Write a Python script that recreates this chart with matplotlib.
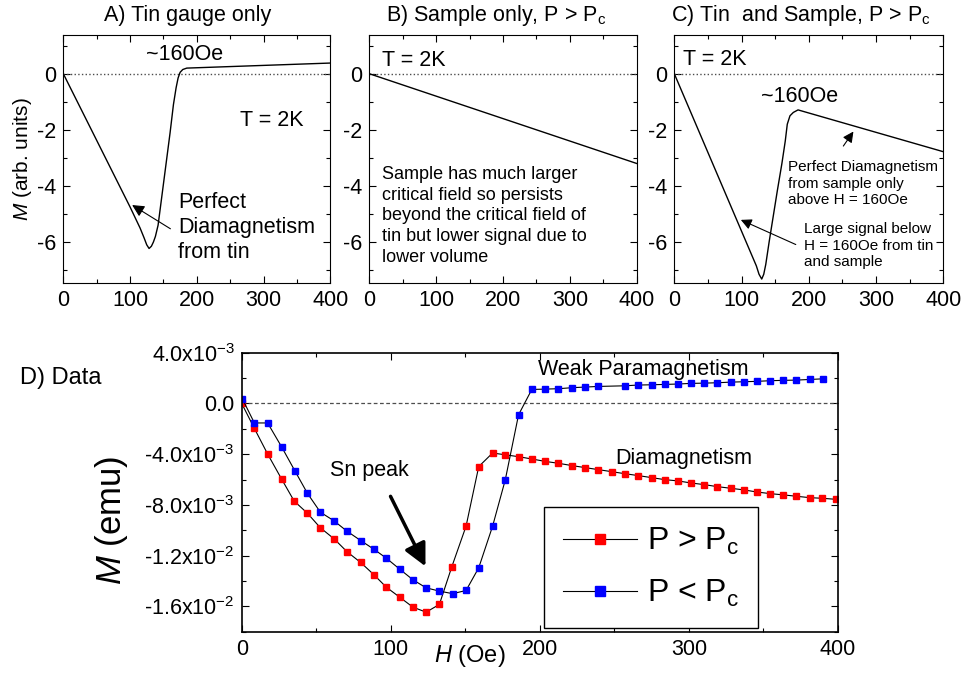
import matplotlib
matplotlib.use("Agg")
import matplotlib.pyplot as plt
from matplotlib.lines import Line2D
from matplotlib.ticker import MultipleLocator

plt.rcParams['font.family'] = ['Liberation Sans', 'DejaVu Sans']
plt.rcParams['mathtext.fontset'] = 'custom'
plt.rcParams['mathtext.rm'] = 'Liberation Sans'
plt.rcParams['mathtext.it'] = 'Liberation Sans:italic'
plt.rcParams['axes.unicode_minus'] = False

# Sketch curves (arb. units) for the three cartoon panels
h_tin = [0, 100, 115, 121, 125, 128.5, 132, 135, 138, 142, 148, 154, 160, 165, 169, 172, 175, 179, 185, 400]
m_tin = [0, -4.75, -5.5, -5.85, -6.1, -6.23, -6.15, -6.0, -5.8, -5.4, -4.3, -3.2, -2.1, -1.1, -0.5, -0.15, 0.05, 0.15, 0.2, 0.38]

h_sample = [0, 400]
m_sample = [0, -3.2]

h_both = [0, 122, 126, 130, 133, 136, 141, 147, 153, 160, 165, 168, 172, 177, 184, 400]
m_both = [0, -6.85, -7.15, -7.32, -7.15, -6.8, -6.0, -5.1, -4.2, -3.2, -2.4, -1.8, -1.5, -1.38, -1.29, -2.78]

# Measured magnetisation, P > Pc (emu x 1e-3)
h_high = [0, 8.5, 17.4, 26.7, 35.2, 44.1, 52.8, 62, 70.7, 79.8, 88.7, 97, 106, 114.8, 123.7,
          132.6, 141, 150.5, 159, 168.3, 176.8, 185.7, 194.6, 203.5, 212.5, 221.4, 230.3, 239.2,
          248.1, 257, 266, 274.9, 283.8, 292.7, 301.2, 310.1, 319, 328, 336.9, 345.4, 354.3,
          363.2, 372.1, 381, 389.5, 398.4]
m_high = [0, -1.97, -3.99, -5.95, -7.7, -8.66, -9.81, -10.68, -11.7, -12.54, -13.51, -14.49,
          -15.28, -16.06, -16.46, -15.85, -12.86, -9.68, -4.98, -3.91, -4.05, -4.2, -4.38, -4.57,
          -4.72, -4.9, -5.06, -5.22, -5.38, -5.54, -5.69, -5.85, -6.01, -6.11, -6.27, -6.4, -6.56,
          -6.69, -6.82, -6.98, -7.11, -7.21, -7.32, -7.43, -7.48, -7.56]

# Measured magnetisation, P < Pc (emu x 1e-3)
h_low = [0.5, 8.5, 17.4, 26.7, 35.6, 44.1, 52.8, 61.7, 70.7, 79.8, 88.7, 97, 106, 114.8, 123.7,
         132.6, 141.5, 150.5, 159, 168.3, 176.8, 185.7, 194.6, 203.5, 212.5, 221.4, 230.3, 239.2,
         257, 266, 274.9, 283.8, 292.7, 301.2, 310.1, 319, 328, 336.9, 345.4, 354.3, 363.2,
         372.1, 381, 390]
m_low = [0.35, -1.54, -1.54, -3.41, -5.3, -7.09, -8.58, -9.24, -10.08, -10.81, -11.5, -12.2,
         -13.07, -13.9, -14.54, -14.8, -15.0, -14.75, -12.96, -9.68, -6.03, -0.9, 1.1, 1.13, 1.16,
         1.24, 1.29, 1.34, 1.39, 1.45, 1.47, 1.5, 1.53, 1.58, 1.6, 1.63, 1.68, 1.71, 1.74, 1.79,
         1.82, 1.84, 1.89, 1.94]

d_yticks = [4e-3, 0, -4e-3, -8e-3, -1.2e-2, -1.6e-2]
d_yticklabels = [r"4.0x10$^{-3}$", "0.0", r"-4.0x10$^{-3}$", r"-8.0x10$^{-3}$",
                 r"-1.2x10$^{-2}$", r"-1.6x10$^{-2}$"]

W, H = 967, 675
fig = plt.figure(figsize=(W / 100, H / 100), dpi=100)


def px_axes(left, top, right, bottom):
    return fig.add_axes([left / W, 1 - bottom / H, (right - left) / W, (bottom - top) / H])


def style_axes(ax, xmaj, xmin, ymaj, ymin, size):
    ax.xaxis.set_major_locator(MultipleLocator(xmaj))
    ax.xaxis.set_minor_locator(MultipleLocator(xmin))
    ax.yaxis.set_major_locator(MultipleLocator(ymaj))
    ax.yaxis.set_minor_locator(MultipleLocator(ymin))
    ax.tick_params(which='both', direction='in', top=True, right=True, labelsize=size, pad=5)
    ax.tick_params(which='major', length=5, width=0.8)
    ax.tick_params(which='minor', length=3, width=0.8)


axA = px_axes(63.3, 35, 330.3, 282.7)
axB = px_axes(369.3, 35, 636.7, 282.7)
axC = px_axes(674.3, 35, 943.3, 282.7)

for ax in (axA, axB, axC):
    ax.set_xlim(0, 400)
    ax.set_ylim(-7.45, 1.38)
    ax.axhline(0, color='0.3', lw=1, ls=':')
    style_axes(ax, 100, 50, 2, 1, 15.5)

axA.plot(h_tin, m_tin, color='black', lw=1)
axB.plot(h_sample, m_sample, color='black', lw=1)
axC.plot(h_both, m_both, color='black', lw=1)

axA.set_ylabel(r"$M$ (arb. units)", fontsize=15, labelpad=2)

fig.text(188 / W, 1 - 15 / H, "A) Tin gauge only", fontsize=15.5, ha='center', va='center')
fig.text(496 / W, 1 - 15 / H, r"B) Sample only, P > P$_\mathrm{c}$", fontsize=15.5, ha='center', va='center')
fig.text(801 / W, 1 - 15 / H, r"C) Tin  and Sample, P > P$_\mathrm{c}$", fontsize=15.5, ha='center', va='center')

# Panel A notes
axA.text(181, 0.7, "~160Oe", fontsize=15.5, ha='center', va='center')
axA.text(264, -1.66, "T = 2K", fontsize=15.5, ha='left', va='center')
axA.text(171.7, -5.5, "Perfect\nDiamagnetism\nfrom tin", fontsize=15.5, ha='left', va='center',
         linespacing=1.25)
axA.annotate("", xy=(99.6, -4.63), xytext=(164, -5.58),
             arrowprops=dict(arrowstyle='-|>', color='black', lw=0.8, mutation_scale=18))

# Panel B notes
axB.text(18.5, 0.47, "T = 2K", fontsize=15.5, ha='left', va='center')
axB.text(18.5, -5.07, "Sample has much larger\ncritical field so persists\nbeyond the critical field of\n"
         "tin but lower signal due to\nlower volume", fontsize=13, ha='left', va='center',
         linespacing=1.3)

# Panel C notes
axC.text(13.4, 0.5, "T = 2K", fontsize=15.5, ha='left', va='center')
axC.text(186.6, -0.81, "~160Oe", fontsize=15.5, ha='center', va='center')
axC.text(169.5, -3.92, "Perfect Diamagnetism\nfrom sample only\nabove H = 160Oe", fontsize=11,
         ha='left', va='center', linespacing=1.25)
axC.annotate("", xy=(268.7, -1.98), xytext=(249, -2.66),
             arrowprops=dict(arrowstyle='-|>', color='black', lw=0.8, mutation_scale=16))
axC.text(192.9, -6.13, "Large signal below\nH = 160Oe from tin\nand sample", fontsize=11,
         ha='left', va='center', linespacing=1.25)
axC.annotate("", xy=(95.2, -5.17), xytext=(184.4, -6.13),
             arrowprops=dict(arrowstyle='-|>', color='black', lw=0.8, mutation_scale=16))

# Panel D: measured data
axD = px_axes(241.7, 352.7, 838, 631.7)
axD.set_xlim(0, 400)
axD.set_ylim(-0.018, 0.004)
axD.axhline(0, color='0.3', lw=0.9, ls=(0, (3, 2)))
style_axes(axD, 100, 50, 4e-3, 2e-3, 15.5)
for s in axD.spines.values():
    s.set_linewidth(1.2)
axD.set_yticks(d_yticks)
axD.set_yticklabels(d_yticklabels)

axD.plot(h_high, [m * 1e-3 for m in m_high], color='black', lw=0.8, marker='s', ms=5,
         mfc='#ff0000', mec='#ff0000')
axD.plot(h_low, [m * 1e-3 for m in m_low], color='black', lw=0.8, marker='s', ms=5,
         mfc='#0000ff', mec='#0000ff')

axD.set_ylabel(r"$M$ (emu)", fontsize=25)
axD.yaxis.set_label_coords(-0.187, 0.40)
fig.text(470 / W, 1 - 656 / H, r"$H$ (Oe)", fontsize=17, ha='center', va='center')

fig.text(20 / W, 1 - 378 / H, "D) Data", fontsize=17, ha='left', va='center')
axD.text(199, 2.65e-3, "Weak Paramagnetism", fontsize=15.5, ha='left', va='center')
axD.text(250.4, -4.35e-3, "Diamagnetism", fontsize=15.5, ha='left', va='center')
axD.text(59.2, -5.3e-3, "Sn peak", fontsize=15.5, ha='left', va='center')
axD.annotate("", xy=(124.1, -1.304e-2), xytext=(99, -7.13e-3),
             arrowprops=dict(arrowstyle='-|>', color='black', lw=2.5, mutation_scale=34))

handles = [
    Line2D([], [], color='black', lw=0.8, marker='s', ms=7, mfc='#ff0000', mec='#ff0000'),
    Line2D([], [], color='black', lw=0.8, marker='s', ms=7, mfc='#0000ff', mec='#0000ff'),
]
leg = axD.legend(handles, [r"P > P$_\mathrm{c}$", r"P < P$_\mathrm{c}$"], loc='lower left',
                 bbox_to_anchor=(0.5075, 0.012), borderaxespad=0, fontsize=23, frameon=True,
                 fancybox=False, framealpha=1, edgecolor='black', handlelength=2.3,
                 borderpad=0.6, labelspacing=0.65, handletextpad=0.3)
leg.get_frame().set_linewidth(1.0)

fig.savefig("out.png", dpi=100)
